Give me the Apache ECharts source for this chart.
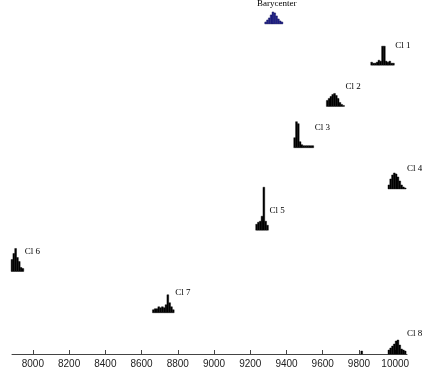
<!DOCTYPE html>
<html><head><meta charset="utf-8">
<script src="https://cdn.jsdelivr.net/npm/echarts@6/dist/echarts.min.js"></script>
<style>html,body{margin:0;padding:0;background:#fff}#c{width:422px;height:378px}</style>
</head><body><div id="c"></div>
<script>
// x-axis tick labels
const xTicks = [8000, 8200, 8400, 8600, 8800, 9000, 9200, 9400, 9600, 9800, 10000];
// names, bottom (level 0) to top (level 8)
const names = ['Cl 8', 'Cl 7', 'Cl 6', 'Cl 5', 'Cl 4', 'Cl 3', 'Cl 2', 'Cl 1', 'Barycenter'];
const binWidth = 10;
// first bin start per name
const starts = [9810, 8660, 7880, 9230, 9960, 9440, 9620, 9865, 9280];
// histogram counts per name
const cl8 = [3, 0, 0, 0, 0, 0, 0, 0, 0, 0, 0, 0, 0, 0, 0, 4, 6, 8, 10, 13, 14, 9, 5, 4, 3];
const cl7 = [3, 4, 4, 6, 5, 6, 5, 8, 18, 10, 6, 3];
const cl6 = [12, 18, 23, 14, 10, 4, 3];
const cl5 = [6, 8, 9, 14, 43, 9, 5];
const cl4 = [4, 10, 14, 16, 15, 12, 8, 4, 2, 1];
const cl3 = [10, 26, 24, 6, 3, 2, 2, 2, 2, 2, 2];
const cl2 = [6, 8, 10, 12, 13, 11, 8, 4, 2, 1];
const cl1 = [3, 2, 2, 3, 5, 4, 19, 19, 4, 3, 4, 2, 2];
const bary = [2, 4, 6, 9, 12, 11, 8, 5, 3, 2];
const hists = [cl8, cl7, cl6, cl5, cl4, cl3, cl2, cl1, bary];
const countScale = 41.25; // counts per level spacing

const bins = [];
const labels = [];
hists.forEach((h, lvl) => {
  h.forEach((c, i) => {
    if (c > 0) bins.push([starts[lvl] + i * binWidth, starts[lvl] + (i + 1) * binWidth, lvl, c / countScale]);
  });
  labels.push([starts[lvl], starts[lvl] + h.length * binWidth, lvl, names[lvl]]);
});

const chart = echarts.init(document.getElementById('c'), null, {renderer: 'canvas'});
chart.setOption({
  animation: false,
  grid: {left: 12, right: 15, top: 0, bottom: 24},
  xAxis: {
    type: 'value', min: 7885, max: 10065,
    axisLine: {lineStyle: {color: '#444', width: 1}},
    axisTick: {inside: true, length: 4, lineStyle: {color: '#444'}, customValues: xTicks},
    axisLabel: {customValues: xTicks, color: '#222', fontSize: 10, fontFamily: 'Liberation Sans', margin: 5,
      formatter: v => String(v)},
    splitLine: {show: false}
  },
  yAxis: {type: 'value', min: 0, max: 8.58, show: false},
  series: [
    {
      type: 'custom',
      data: bins,
      renderItem: function (params, api) {
        const p0 = api.coord([api.value(0), api.value(2)]);
        const p1 = api.coord([api.value(1), api.value(2) + api.value(3)]);
        const isBary = api.value(2) === 8;
        return {
          type: 'rect',
          shape: {x: p0[0], y: p1[1], width: p1[0] - p0[0], height: p0[1] - p1[1]},
          style: {fill: isBary ? '#22238f' : '#000', stroke: isBary ? '#101050' : '#000', lineWidth: 0.4}
        };
      }
    },
    {
      type: 'custom',
      data: labels,
      renderItem: function (params, api) {
        const lvl = api.value(2);
        const a = api.coord([api.value(0), lvl]);
        const b = api.coord([api.value(1), lvl]);
        const isBary = lvl === 8;
        return {
          type: 'text',
          style: {
            x: isBary ? (a[0] + b[0]) / 2 + 3 : b[0] + 1,
            y: a[1] - 20,
            text: labels[params.dataIndex][3],
            fill: '#000',
            font: '9px "Liberation Serif"',
            align: isBary ? 'center' : 'left',
            verticalAlign: 'middle'
          }
        };
      }
    }
  ]
});
</script></body></html>
